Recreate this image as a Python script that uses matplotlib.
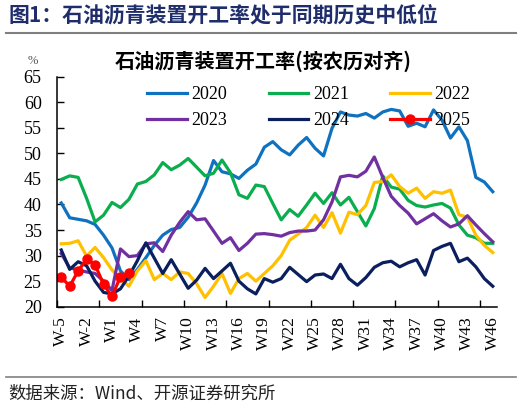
import matplotlib
matplotlib.use("Agg")
import matplotlib.pyplot as plt
import numpy as np

# week labels aligned on the lunar calendar (W0 included)
weeks = [f"W{w}" for w in range(-5, 47)]

y2020 = [40.3, 37.4, 37.1, 36.8, 36.1, 34.0, 31.5, 27.0, 25.3, 27.3, 29.6, 32.0, 34.0,
         35.1, 35.5, 37.5, 40.3, 43.8, 48.6, 46.4, 46.0, 45.1, 46.7, 47.9, 51.2, 52.3,
         50.7, 49.7, 51.6, 53.1, 51.0, 49.5, 54.9, 58.1, 57.5, 57.3, 57.8, 56.9, 58.1,
         58.6, 58.3, 55.3, 55.9, 55.2, 58.5, 56.5, 53.0, 55.2, 52.5, 45.3, 44.4, 42.5]
y2021 = [44.9, 45.6, 45.3, 41.2, 36.6, 37.9, 40.4, 39.4, 41.0, 44.0, 44.5, 45.8, 48.2,
         46.8, 47.7, 49.0, 47.3, 45.6, 46.1, 48.7, 46.2, 41.9, 41.2, 43.8, 43.5, 40.2,
         37.0, 39.0, 37.7, 39.9, 42.2, 40.2, 42.3, 39.9, 41.4, 38.6, 35.8, 39.2, 45.6,
         43.4, 43.0, 40.8, 39.8, 39.5, 39.9, 40.2, 39.3, 36.0, 34.0, 33.5, 32.4, 32.4]
y2022 = [32.3, 32.4, 32.9, 29.9, 31.6, 29.6, 27.2, 25.5, 24.0, 27.0, 29.0, 25.3, 26.5,
         25.3, 26.8, 26.5, 24.5, 21.8, 24.0, 26.5, 22.6, 25.5, 26.5, 25.0, 26.5, 28.0,
         30.0, 33.0, 34.2, 35.5, 37.9, 35.5, 38.4, 34.4, 38.5, 38.0, 39.8, 44.3, 44.5,
         45.8, 43.5, 42.2, 43.2, 41.2, 42.5, 42.2, 42.8, 38.0, 37.5, 34.0, 32.0, 30.6]
y2023 = [30.4, 27.6, 27.2, 26.8, 26.5, 25.0, 23.2, 31.3, 29.8, 30.0, 32.3, 32.5, 30.8,
         34.0, 36.5, 38.6, 37.0, 37.2, 34.8, 32.4, 33.5, 31.0, 32.4, 34.2, 34.3, 34.1,
         33.8, 34.5, 34.8, 34.8, 35.0, 37.0, 40.5, 45.4, 45.7, 45.4, 46.5, 49.3, 45.3,
         41.6, 39.8, 38.3, 36.2, 37.2, 38.2, 36.8, 35.6, 36.2, 37.8, 36.0, 34.3, 32.7]
y2024 = [31.1, 27.3, 28.8, 28.0, 25.0, 22.8, 22.5, 23.5, 26.0, 29.0, 32.5, 29.5, 26.5,
         29.2, 26.4, 23.6, 25.2, 27.5, 25.5, 27.0, 28.5, 25.0, 23.5, 22.5, 25.5, 24.8,
         25.5, 27.7, 26.3, 24.9, 26.2, 26.4, 25.5, 28.3, 25.5, 24.2, 25.7, 27.7, 28.6,
         28.9, 27.8, 28.6, 29.2, 26.2, 31.0, 31.8, 32.4, 28.8, 29.5, 27.8, 25.5, 24.0]
y2025 = [25.8, 24.0, 27.0, 29.3, 28.2, 24.4, 22.0, 25.9, 26.5]

series = [
    ("2020", y2020, "#0F72C0"),
    ("2021", y2021, "#0BAE4E"),
    ("2022", y2022, "#FFC000"),
    ("2023", y2023, "#7030A0"),
    ("2024", y2024, "#0B1F5E"),
]

serif = ["Liberation Serif", "Noto Sans CJK SC"]
cjk = ["Noto Sans CJK SC", "Liberation Serif"]

fig = plt.figure(figsize=(5.22, 4.08), dpi=100)
ax = fig.add_axes([57 / 522, 1 - 306.7 / 408, 440 / 522, 230 / 408])

x = np.arange(len(weeks))
handles = {}
for name, vals, color in series:
    (ln,) = ax.plot(x[:len(vals)], vals, color=color, lw=2.3, solid_joinstyle="round")
    handles[name] = ln
(ln,) = ax.plot(x[:len(y2025)], y2025, color="#FF0000", lw=2.3, marker="o",
                markersize=6.5, solid_joinstyle="round")
handles["2025"] = ln

ax.set_xlim(-0.5, len(weeks) - 0.5)
ax.set_ylim(20, 65)
ax.set_yticks(np.arange(20, 66, 5))
ax.set_xticks(x[::3])
ax.set_xticklabels(weeks[::3], rotation=90, fontsize=12.5, family=serif)
ax.set_xticks(np.arange(-0.5, len(weeks) - 1, 5), minor=True)
ax.tick_params(axis="x", which="major", length=0, pad=7)
ax.tick_params(axis="x", which="minor", length=5, direction="in", width=1)
ax.tick_params(axis="y", length=5, direction="in", width=1, pad=11)
for lbl in ax.get_yticklabels():
    lbl.set_family(serif)
    lbl.set_fontsize(13)

for side in ("top", "right"):
    ax.spines[side].set_visible(False)
for side in ("left", "bottom"):
    ax.spines[side].set_linewidth(1.1)

order = ["2020", "2023", "2021", "2024", "2022", "2025"]
ax.legend([handles[k] for k in order], order, ncol=3, frameon=False,
          loc="upper left", bbox_to_anchor=(0.184, 0.997), borderpad=0,
          handlelength=2.2, handletextpad=0.25, columnspacing=2.3,
          labelspacing=0.5, prop={"family": serif, "size": 13})

fig.text(263 / 522, 1 - 61 / 408, "石油沥青装置开工率(按农历对齐)", ha="center", va="center",
         fontsize=14.5, fontweight="bold", family=cjk)
fig.text(33 / 522, 1 - 61 / 408, "%", ha="center", va="center", fontsize=9,
         family=serif, color="#555555")

fig.text(8 / 522, 1 - 15 / 408, "图1：石油沥青装置开工率处于同期历史中低位", ha="left",
         va="center", fontsize=15, fontweight="bold", family=cjk, color="#1F2D6B")
fig.add_artist(plt.Line2D([6 / 522, 516 / 522], [1 - 33 / 408, 1 - 33 / 408],
                          color="#808080", lw=1.5))
fig.add_artist(plt.Line2D([6 / 522, 516 / 522], [1 - 377 / 408, 1 - 377 / 408],
                          color="#808080", lw=1.2))
fig.text(8 / 522, 1 - 394 / 408, "数据来源：Wind、开源证券研究所", ha="left", va="center",
         fontsize=12.5, family=cjk, color="#222222")

fig.savefig("out.png", dpi=100)
